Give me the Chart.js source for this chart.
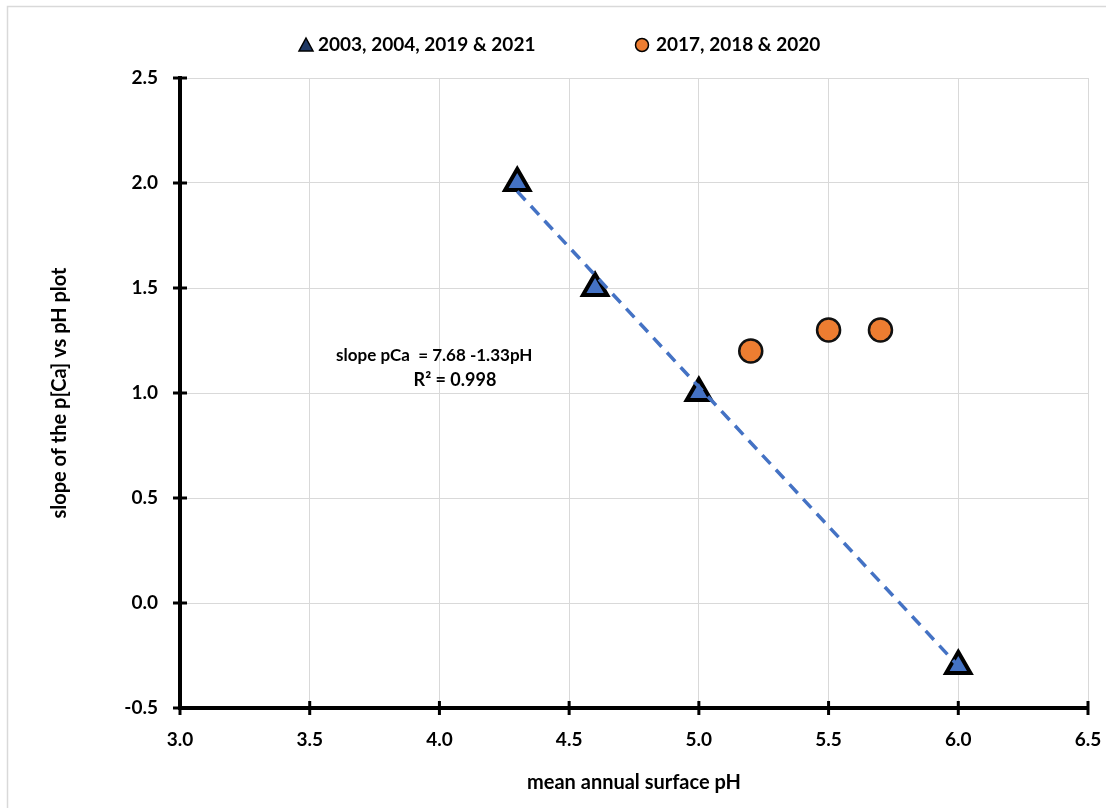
<!DOCTYPE html>
<html>
<head>
<meta charset="utf-8">
<script src="https://cdn.jsdelivr.net/npm/chart.js@4"></script>
<style>
  body { margin: 0; background: #fff; }
  #wrap { width: 1106px; height: 808px; position: relative; }
</style>
</head>
<body>
<div id="wrap"><canvas id="graph" width="1106" height="808"></canvas></div>
<script>
// values
const triX = [4.3, 4.6, 5.0, 6.0]
const triY = [2.0, 1.5, 1.0, -0.3]
const dotX = [5.2, 5.5, 5.7]
const dotY = [1.2, 1.3, 1.3]
const trendX = [4.3, 6.0]
const trendY = [1.96, -0.30]
const xTicks = [3.0, 3.5, 4.0, 4.5, 5.0, 5.5, 6.0, 6.5]
const yTicks = [-0.5, 0.0, 0.5, 1.0, 1.5, 2.0, 2.5]
const legendNames = ['2003, 2004, 2019 & 2021', '2017, 2018 & 2020']

const FONT = 'Lato, "Open Sans", sans-serif'

function pts(xs, ys) {
    return xs.map((x, i) => ({ x: x, y: ys[i] }))
}

// frame, crossing tick marks, legend and equation text
const extras = {
    id: 'extras',
    beforeDraw(chart) {
        const ctx = chart.ctx
        ctx.save()
        ctx.strokeStyle = '#d9d9d9'
        ctx.lineWidth = 1.5
        ctx.beginPath()
        ctx.moveTo(7.5, chart.height)
        ctx.lineTo(7.5, 6.5)
        ctx.lineTo(chart.width, 6.5)
        ctx.stroke()
        ctx.restore()
    },
    afterDraw(chart) {
        const ctx = chart.ctx
        const xs = chart.scales.x
        const ys = chart.scales.y
        const area = chart.chartArea
        ctx.save()
        ctx.strokeStyle = '#000'
        ctx.lineWidth = 3
        xTicks.forEach(v => {
            let px = xs.getPixelForValue(v)
            ctx.beginPath()
            ctx.moveTo(px, area.bottom - 7)
            ctx.lineTo(px, area.bottom + 7)
            ctx.stroke()
        })
        yTicks.forEach(v => {
            let py = ys.getPixelForValue(v)
            ctx.beginPath()
            ctx.moveTo(area.left - 7, py)
            ctx.lineTo(area.left + 7, py)
            ctx.stroke()
        })

        // equation
        ctx.fillStyle = '#000'
        ctx.font = 'bold 17px ' + FONT
        ctx.textAlign = 'center'
        ctx.textBaseline = 'middle'
        ctx.fillText('slope pCa  = 7.68 -1.33pH', xs.getPixelForValue(3.98), ys.getPixelForValue(1.18))
        ctx.font = 'bold 18px ' + FONT
        ctx.fillText('R\u00b2 = 0.998', xs.getPixelForValue(4.06), ys.getPixelForValue(1.06))

        // legend
        ctx.font = 'bold 19px ' + FONT
        ctx.textAlign = 'left'
        let ly = 45
        ctx.beginPath()
        ctx.moveTo(306, ly - 7)
        ctx.lineTo(313, ly + 6)
        ctx.lineTo(299, ly + 6)
        ctx.closePath()
        ctx.fillStyle = '#1f3864'
        ctx.fill()
        ctx.lineWidth = 1.5
        ctx.strokeStyle = '#000'
        ctx.stroke()
        ctx.fillStyle = '#000'
        ctx.fillText(legendNames[0], 318, ly)
        ctx.beginPath()
        ctx.arc(642, ly, 6.5, 0, Math.PI * 2)
        ctx.fillStyle = '#ED7D31'
        ctx.fill()
        ctx.stroke()
        ctx.fillStyle = '#000'
        ctx.fillText(legendNames[1], 656, ly)
        ctx.restore()
    }
}

let graph = document.getElementById('graph').getContext('2d')

new Chart(graph, {
    type: 'scatter',
    data: {
        datasets: [
            {
                label: legendNames[0],
                data: pts(triX, triY),
                pointStyle: 'triangle',
                pointRadius: 14,
                pointBackgroundColor: '#4472C4',
                pointBorderColor: '#000',
                pointBorderWidth: 4,
                order: 2
            },
            {
                label: legendNames[1],
                data: pts(dotX, dotY),
                pointStyle: 'circle',
                pointRadius: 11.5,
                pointBackgroundColor: '#ED7D31',
                pointBorderColor: '#111',
                pointBorderWidth: 2.5,
                order: 2
            },
            {
                label: 'trend',
                data: pts(trendX, trendY),
                showLine: true,
                borderColor: '#4472C4',
                borderWidth: 3.5,
                borderDash: [12, 8],
                pointRadius: 0,
                order: 1
            }
        ]
    },
    options: {
        responsive: false,
        animation: false,
        layout: { padding: { left: 0, right: 6, top: 78, bottom: 0 } },
        plugins: {
            legend: { display: false },
            tooltip: { enabled: false }
        },
        scales: {
            x: {
                type: 'linear',
                min: 3.0,
                max: 6.5,
                afterFit: s => { s.height = 100; s.paddingLeft = 0; s.paddingRight = 0 },
                afterBuildTicks: s => { s.ticks = xTicks.map(v => ({ value: v })) },
                ticks: {
                    padding: 20,
                    color: '#000',
                    font: { family: FONT, size: 19, weight: 'bold' },
                    callback: v => v.toFixed(1)
                },
                grid: { color: '#d9d9d9', lineWidth: 1, drawTicks: false },
                border: { color: '#000', width: 4 },
                title: {
                    display: true,
                    text: 'mean annual surface pH',
                    color: '#000',
                    font: { family: FONT, size: 20, weight: 'bold' },
                    padding: { top: 0, bottom: 13 }
                }
            },
            y: {
                type: 'linear',
                min: -0.5,
                max: 2.5,
                afterFit: s => { s.width = 180; s.paddingTop = 0; s.paddingBottom = 0 },
                afterBuildTicks: s => { s.ticks = yTicks.map(v => ({ value: v })) },
                ticks: {
                    padding: 22,
                    color: '#000',
                    font: { family: FONT, size: 19, weight: 'bold' },
                    callback: v => v.toFixed(1)
                },
                grid: { color: '#d9d9d9', lineWidth: 1, drawTicks: false },
                border: { color: '#000', width: 4 },
                title: {
                    display: true,
                    text: 'slope of the p[Ca] vs pH plot',
                    color: '#000',
                    font: { family: FONT, size: 20, weight: 'bold' },
                    padding: { top: 48, bottom: 0 }
                }
            }
        }
    },
    plugins: [extras]
})
</script>
</body>
</html>
